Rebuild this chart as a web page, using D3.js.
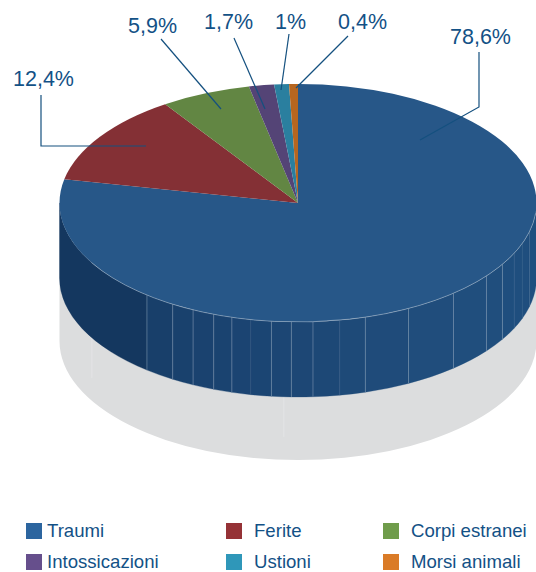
<!DOCTYPE html>
<html>
<head>
<meta charset="utf-8">
<script src="https://cdn.jsdelivr.net/npm/d3@7"></script>
<style>
  html, body { margin: 0; padding: 0; background: #fff; }
  svg { display: block; }
  text { font-family: "Liberation Sans", sans-serif; fill: #135186; }
</style>
</head>
<body>
<svg width="536" height="572"></svg>
<script>
// values
var categories = ['Traumi', 'Ferite', 'Corpi estranei', 'Intossicazioni', 'Ustioni', 'Morsi animali'];
var percentLabels = ['78,6%', '12,4%', '5,9%', '1,7%', '1%', '0,4%'];
// slice sizes as they are drawn in the picture, a little off from the printed numbers
var sliceShares = [78.2, 12.4, 6.1, 1.7, 1, 0.6];
var topColors = ['#275788', '#843035', '#628643', '#544476', '#2a7f9f', '#b7661f'];
var legendColors = ['#2c659f', '#953236', '#6f9c4b', '#664f8c', '#2f97b9', '#da7b27'];

// seams on the side wall, in degrees clockwise from the top of the pie
var seams = [270, 219.3, 211.7, 206.1, 200.7, 196.1, 191.4, 186.4, 181.6, 176.4, 169.9,
  163.6, 152.4, 139.3, 127.8, 121, 115, 110, 104, 90];
var faintSeams = [191.4, 169.9, 115, 110, 104];
var shadowSeams = [239.8, 183.4];

// leader lines and label places
var leaders = [
  [[479, 52], [479, 107], [420, 140]],
  [[41, 95], [41, 146], [146, 146]],
  [[161, 39], [221, 109]],
  [[234, 38], [265, 109]],
  [[289, 34], [281, 90]],
  [[348, 36], [296, 88]]
];
var labelPlaces = [[450, 44], [13, 86], [128, 33], [204, 29], [275, 29], [338, 29]];

var cx = 298, cy = 203, rx = 238.5, ry = 119, wallH = 75, shadowH = 138;
var svg = d3.select('svg');

function px(deg) { return cx + rx * Math.sin(deg * Math.PI / 180); }
function py(deg) { return cy - ry * Math.cos(deg * Math.PI / 180); }

// piece of the front wall between two angles (a0 > a1, left to right)
function wall(a0, a1, h) {
  return 'M' + px(a0) + ',' + py(a0) +
    'A' + rx + ',' + ry + ' 0 0 0 ' + px(a1) + ',' + py(a1) +
    'L' + px(a1) + ',' + (py(a1) + h) +
    'A' + rx + ',' + ry + ' 0 0 1 ' + px(a0) + ',' + (py(a0) + h) + 'Z';
}

// grey shadow under the pie
svg.append('path')
  .attr('d', wall(270, 90, shadowH))
  .attr('fill', '#dcddde');

svg.selectAll('line.shadowSeam')
  .data(shadowSeams)
  .join('line')
  .attr('class', 'shadowSeam')
  .attr('x1', d => px(d))
  .attr('x2', d => px(d))
  .attr('y1', d => py(d) + wallH)
  .attr('y2', d => py(d) + wallH + 40)
  .attr('stroke', '#e6e7e8')
  .attr('stroke-width', 0.8);

// side wall
var shade = d3.scaleLinear()
  .domain([245, 200, 150, 90])
  .range(['#14375f', '#1a4370', '#204d7c', '#1f4f7f']);

var facets = d3.pairs(seams);
svg.selectAll('path.facet')
  .data(facets)
  .join('path')
  .attr('class', 'facet')
  .attr('d', d => wall(d[0], d[1], wallH))
  .attr('fill', d => shade((d[0] + d[1]) / 2))
  .attr('stroke', d => shade((d[0] + d[1]) / 2))
  .attr('stroke-width', 0.3);

svg.selectAll('line.seam')
  .data(seams.slice(1, -1))
  .join('line')
  .attr('class', 'seam')
  .attr('x1', d => px(d))
  .attr('x2', d => px(d))
  .attr('y1', d => py(d))
  .attr('y2', d => py(d) + wallH)
  .attr('stroke', '#9fb2c6')
  .attr('stroke-width', 0.8)
  .attr('stroke-opacity', d => faintSeams.includes(d) ? 0.12 : 0.55);

// top of the pie, a flat pie squashed into an ellipse
var pie = d3.pie().sort(null);
var arc = d3.arc().innerRadius(0).outerRadius(rx);

svg.append('g')
  .attr('transform', 'translate(' + cx + ',' + cy + ') scale(1,' + (ry / rx) + ')')
  .selectAll('path')
  .data(pie(sliceShares))
  .join('path')
  .attr('d', arc)
  .attr('fill', (d, i) => topColors[i]);

// pale rim along the front edge
svg.append('path')
  .attr('d', 'M' + px(240) + ',' + py(240) + 'A' + rx + ',' + ry + ' 0 0 0 ' + px(95) + ',' + py(95))
  .attr('fill', 'none')
  .attr('stroke', '#b9c7d6')
  .attr('stroke-width', 0.7)
  .attr('stroke-opacity', 0.7);

// leader lines
svg.selectAll('polyline')
  .data(leaders)
  .join('polyline')
  .attr('points', d => d.join(' '))
  .attr('fill', 'none')
  .attr('stroke', '#14507f')
  .attr('stroke-width', 1.2);

svg.selectAll('text.pct')
  .data(percentLabels)
  .join('text')
  .attr('class', 'pct')
  .attr('x', (d, i) => labelPlaces[i][0])
  .attr('y', (d, i) => labelPlaces[i][1])
  .attr('font-size', 21.5)
  .text(d => d);

// legend
var colX = d3.scaleOrdinal().domain([0, 1, 2]).range([26, 226, 383]);
var textX = d3.scaleOrdinal().domain([0, 1, 2]).range([47, 254, 411]);
var rowY = d3.scaleOrdinal().domain([0, 1]).range([523, 554]);

var item = svg.selectAll('g.item')
  .data(categories)
  .join('g')
  .attr('class', 'item');

item.append('rect')
  .attr('x', (d, i) => colX(i % 3))
  .attr('y', (d, i) => rowY(Math.floor(i / 3)))
  .attr('width', 16)
  .attr('height', 16)
  .attr('fill', (d, i) => legendColors[i]);

item.append('text')
  .attr('x', (d, i) => textX(i % 3))
  .attr('y', (d, i) => rowY(Math.floor(i / 3)) + 14)
  .attr('font-size', 18.6)
  .text(d => d);
</script>
</body>
</html>
